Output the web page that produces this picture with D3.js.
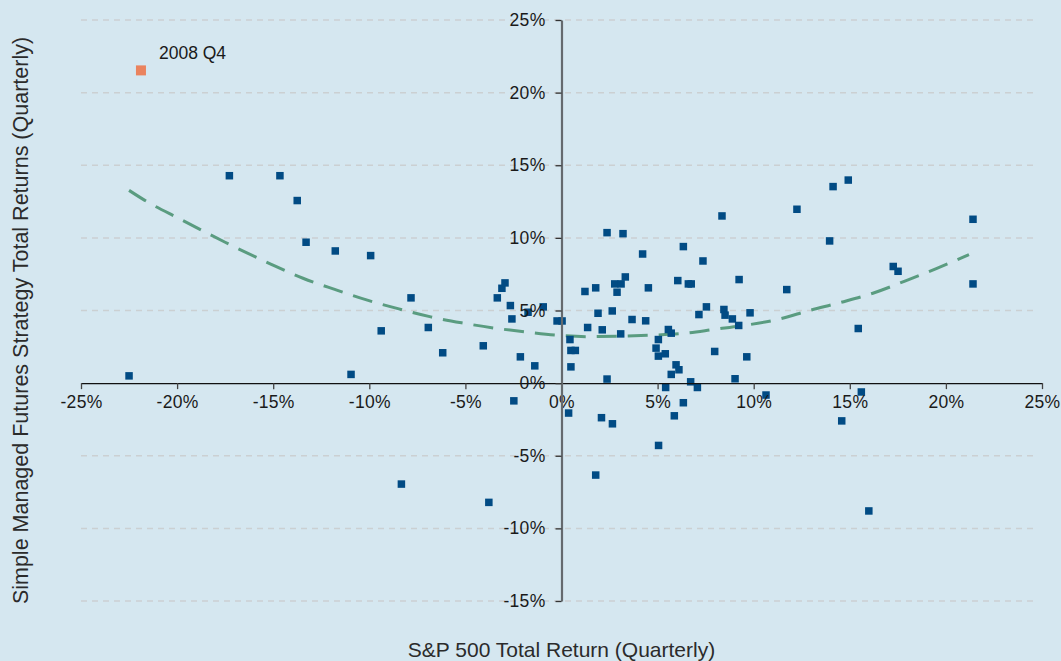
<!DOCTYPE html>
<html>
<head>
<meta charset="utf-8">
<script src="https://cdn.jsdelivr.net/npm/d3@7"></script>
<style>
  html, body { margin: 0; padding: 0; background: #d5e7f0; }
  svg { display: block; font-family: "Liberation Sans", Arial, Helvetica, sans-serif; }
</style>
</head>
<body>
<svg id="chart"></svg>
<script>
// S&P 500 quarterly return (x) vs managed futures quarterly return (y), in %
const spReturns = [
  -22.5, -17.28, -14.65, -13.75, -13.29, -11.77, -9.93, -7.83, -9.38, -10.95,
  -6.93, -6.18, -4.07, -3.34, -3.1, -2.94, -2.66, -2.58, -0.95, -1.74,
  -2.14, -1.39, -2.48, -0.23, 0.03, 0.44, 0.49, 0.72, 0.49, 1.22,
  1.78, 2.37, 3.2, 1.36, 1.9, 2.12, 2.64, 2.77, 3.1, 2.89,
  3.32, 3.08, 3.67, 2.37, 0.37, 2.08, 2.65, 1.78, 4.22, 4.52,
  4.38, 6.34, 6.05, 6.6, 6.75, 7.36, 8.35, 7.54, 7.15, 8.45,
  8.51, 8.89, 9.24, 9.81, 9.22, 5.56, 5.71, 5.04, 4.92, 5.04,
  5.4, 5.96, 6.11, 5.71, 6.72, 7.07, 5.42, 6.34, 5.87, 7.97,
  9.64, 9.03, 10.64, 11.72, 12.25, 13.95, 15.44, 15.6, 14.58, 14.13,
  14.92, 21.41, 17.26, 17.51, 21.41, 5.05, 15.99, -8.33, -3.78
];
const mfReturns = [
  0.5, 14.28, 14.28, 12.57, 9.7, 9.1, 8.78, 5.87, 3.6, 0.6,
  3.83, 2.09, 2.57, 5.87, 6.53, 6.9, 5.34, 4.42, 5.25, 4.88,
  1.81, 1.19, -1.22, 4.28, 4.28, 3.0, 2.25, 2.25, 1.12, 6.31,
  6.56, 10.36, 10.29, 3.83, 4.81, 3.67, 4.97, 6.83, 6.83, 6.26,
  7.31, 3.39, 4.38, 0.28, -2.06, -2.38, -2.8, -6.33, 8.89, 6.56,
  4.29, 9.4, 7.06, 6.83, 6.83, 8.41, 11.51, 5.25, 4.72, 5.07,
  4.68, 4.42, 7.13, 4.84, 3.97, 3.69, 3.44, 3.0, 2.41, 1.86,
  2.02, 1.26, 0.92, 0.6, 0.09, -0.3, -0.3, -1.35, -2.25, 2.18,
  1.81, 0.3, -0.82, 6.44, 11.97, 9.79, 3.76, -0.61, -2.6, 13.53,
  13.98, 11.28, 8.03, 7.7, 6.83, -4.29, -8.8, -6.95, -8.21
];

// highlighted quarter
const highlightLabel = "2008 Q4";
const highlightX = -21.88;
const highlightY = 21.53;

// fitted trend (dashed curve)
const trendX = [-22.5, -21.7, -19.9, -17.5, -15.1, -13.45, -11.8, -10.1, -8.4, -6.8, -5.2, -3.55, -1.9, -0.25,
  1.4, 3.0, 4.7, 6.3, 8.0, 9.6, 11.3, 12.9, 14.5, 16.2, 17.9, 19.5, 21.2];
const trendY = [13.27, 12.6, 11.33, 9.7, 8.18, 7.22, 6.45, 5.71, 5.09, 4.56, 4.15, 3.8, 3.53, 3.3,
  3.2, 3.23, 3.3, 3.42, 3.71, 3.99, 4.4, 5.0, 5.55, 6.19, 7.04, 7.89, 8.85];

const xTicks = [-25, -20, -15, -10, -5, 0, 5, 10, 15, 20, 25];
const yTicks = [-15, -10, -5, 0, 5, 10, 15, 20, 25];

const xTitle = "S&P 500 Total Return (Quarterly)";
const yTitle = "Simple Managed Futures Strategy Total Returns (Quarterly)";

const width = 1061, height = 661;

const svg = d3.select("#chart")
  .attr("width", width)
  .attr("height", height);

svg.append("rect")
  .attr("width", width)
  .attr("height", height)
  .attr("fill", "#d5e7f0");

const x = d3.scaleLinear().domain([-25, 25]).range([81, 1042]);
const y = d3.scaleLinear().domain([-15, 25]).range([601, 20]);

const pct = d => d + "%";

// gridlines
svg.append("g")
  .selectAll("line")
  .data(yTicks.filter(d => d !== 0))
  .enter()
  .append("line")
  .attr("x1", x(-25))
  .attr("x2", 1038)
  .attr("y1", d => y(d))
  .attr("y2", d => y(d))
  .attr("stroke", "#cbd0d2")
  .attr("stroke-width", 1.5)
  .attr("stroke-dasharray", "6,5");

// trend line
const trend = trendX.map((d, i) => [d, trendY[i]]);
svg.append("path")
  .datum(trend)
  .attr("fill", "none")
  .attr("stroke", "#5a9c80")
  .attr("stroke-width", 3)
  .attr("stroke-dasharray", "20,11")
  .attr("d", d3.line()
    .x(d => x(d[0]))
    .y(d => y(d[1]))
    .curve(d3.curveMonotoneX));

// quarterly points
const pts = spReturns.map((d, i) => [d, mfReturns[i]]);
const s = 7.5;
svg.append("g")
  .selectAll("rect")
  .data(pts)
  .enter()
  .append("rect")
  .attr("x", d => x(d[0]) - s / 2)
  .attr("y", d => y(d[1]) - s / 2)
  .attr("width", s)
  .attr("height", s)
  .attr("fill", "#014b84");

// x axis through y = 0
const xAxis = svg.append("g")
  .attr("transform", `translate(0,${y(0)})`)
  .call(d3.axisBottom(x).tickValues(xTicks).tickFormat(pct).tickSize(6).tickSizeOuter(0).tickPadding(17));
xAxis.select(".domain").attr("stroke", "#111").attr("stroke-width", 1.3);
xAxis.selectAll(".tick line").attr("stroke", "#444").attr("stroke-width", 1.3);
xAxis.selectAll("text")
  .attr("font-size", 17.5)
  .attr("fill", "#1a1a1a")
  .attr("dy", "0.1em")
  .attr("letter-spacing", 0.3)
  .attr("font-family", "Liberation Sans, Arial, sans-serif");

// y axis through x = 0
const yAxis = svg.append("g")
  .attr("transform", `translate(${x(0)},0)`)
  .call(d3.axisLeft(y).tickValues(yTicks).tickFormat(pct).tickSize(6).tickSizeOuter(0).tickPadding(10));
yAxis.select(".domain").attr("stroke", "#656a6e").attr("stroke-width", 2.2);
yAxis.selectAll(".tick line").attr("stroke", "#333").attr("stroke-width", 1.3);
yAxis.selectAll("text")
  .attr("font-size", 17.5)
  .attr("fill", "#1a1a1a")
  .attr("letter-spacing", 0.3)
  .attr("font-family", "Liberation Sans, Arial, sans-serif");

// highlighted point
svg.append("rect")
  .attr("x", x(highlightX) - 5)
  .attr("y", y(highlightY) - 5)
  .attr("width", 10)
  .attr("height", 10)
  .attr("fill", "#ea835e");

svg.append("text")
  .attr("x", x(highlightX) + 18)
  .attr("y", y(highlightY) - 11)
  .attr("font-size", 17.5)
  .attr("fill", "#1a1a1a")
  .text(highlightLabel);

// axis titles
svg.append("text")
  .attr("x", x(0))
  .attr("y", 657)
  .attr("text-anchor", "middle")
  .attr("font-size", 21)
  .attr("fill", "#2b2b2b")
  .text(xTitle);

svg.append("text")
  .attr("transform", `translate(28,${(38 + 603) / 2}) rotate(-90)`)
  .attr("text-anchor", "middle")
  .attr("font-size", 21.5)
  .attr("fill", "#2b2b2b")
  .text(yTitle);
</script>
</body>
</html>
